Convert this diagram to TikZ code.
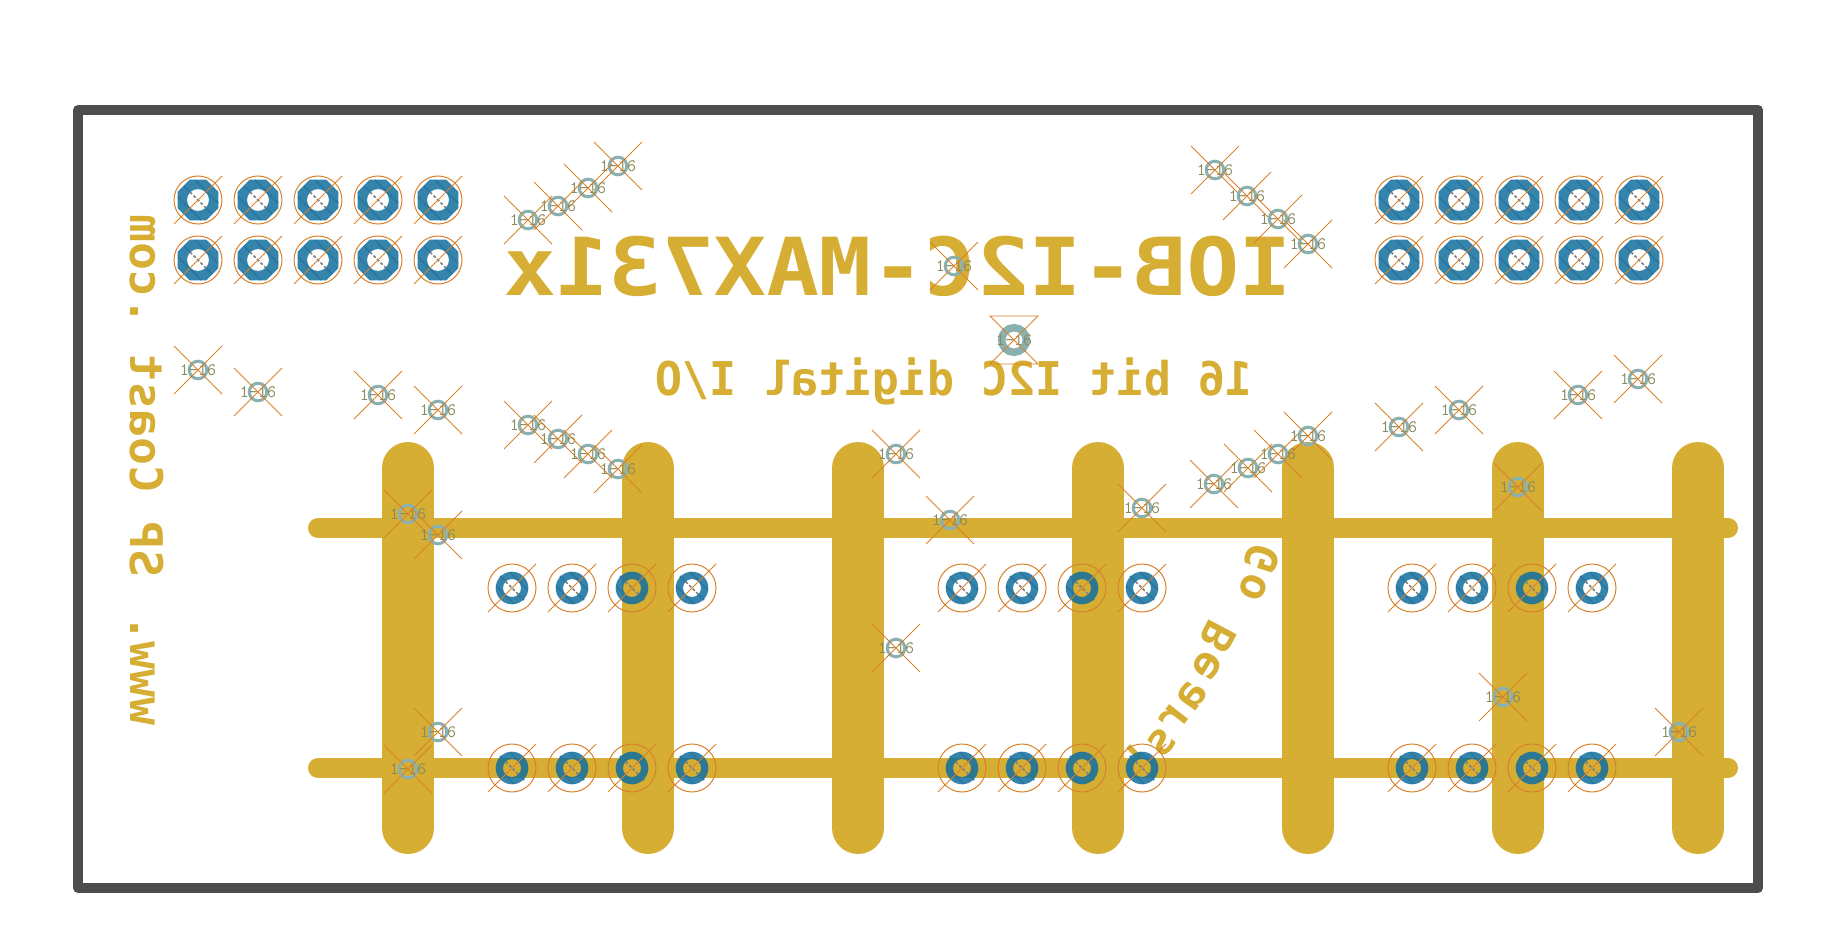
\documentclass[tikz,border=0pt]{standalone}
\usepackage{graphicx}
\usepackage{fontspec}
\usepackage{xcolor}
\usepackage{tikz}
\newfontfamily\silkfont{DejaVu Sans Mono}
\definecolor{copper}{HTML}{D6AE33}
\definecolor{padblue}{HTML}{116F9E}
\definecolor{padedge}{HTML}{2A76A0}
\definecolor{pcbmark}{HTML}{D9822B}
\definecolor{viaring}{HTML}{8AB0B0}
\definecolor{labtext}{HTML}{8A8A5A}
\definecolor{edgecut}{HTML}{4D4D4D}
\tikzset{
  xmark/.style={draw=pcbmark, line width=0.9pt},
  stripe/.style={draw=padedge, line width=1.6pt},
  drill/.style={draw=gray, line width=1.6pt, dash pattern=on 3pt off 2pt},
  silk/.style={inner sep=0pt, text=copper},
  vialab/.style={inner sep=0pt, text=labtext, font=\ttfamily\fontsize{17.5}{17.5}\selectfont}}
\newcommand{\octpad}[2]{%
  \begin{scope}[shift={(#1,#2)}]
  \fill[padblue, opacity=.85, even odd rule]
    (-8.4,-20.3) -- (8.4,-20.3) -- (20.3,-8.4) -- (20.3,8.4) -- (8.4,20.3)
    -- (-8.4,20.3) -- (-20.3,8.4) -- (-20.3,-8.4) -- cycle (0,0) circle (11);
  \draw[stripe] (-3,-20) -- (20,3);
  \draw[stripe] (-20,-3) -- (3,20);
  \draw[stripe] (-14,-14) -- (-8,-8) (8,8) -- (14,14);
  \draw[drill] (-8,-8) -- (8,8);
  \draw[pcbmark, line width=1pt] (0,0) circle (24);
  \draw[xmark] (-24,24) -- (24,-24);
  \end{scope}}
\newcommand{\roundpad}[2]{%
  \begin{scope}[shift={(#1,#2)}]
  \fill[padblue, opacity=.85, even odd rule] (0,0) circle (16.3) (0,0) circle (9);
  \draw[stripe] (-1.8,-15.8) -- (15.8,1.8);
  \draw[stripe] (-15.8,-1.8) -- (1.8,15.8);
  \draw[stripe] (-12,-12) -- (-6.4,-6.4) (6.4,6.4) -- (12,12);
  \draw[drill] (-6.4,-6.4) -- (6.4,6.4);
  \draw[pcbmark, line width=1pt] (0,0) circle (24);
  \draw[xmark] (-24,24) -- (24,-24);
  \end{scope}}
\begin{document}
\begin{tikzpicture}[x=1pt,y=-1pt]
\useasboundingbox (0,0) rectangle (1840,928);
\fill[white] (0,0) rectangle (1840,928);
% traces
\foreach \barx in {408,648,858,1098,1308,1518,1698}
  \draw[copper, line width=52pt, line cap=round] (\barx,468) -- (\barx,828);
\foreach \bary in {528,768}
  \draw[copper, line width=20pt, line cap=round] (318,\bary) -- (1728,\bary);
% board edge
\draw[edgecut, line width=10pt, line join=round] (78,110) rectangle (1758,888);
% mirrored copper text
\node[silk] (title) at (898,266)
  {\fontsize{80}{80}\silkfont\bfseries\scalebox{-1.09}[1]{IOB-I2C-MAX731x}};
\node[silk] (subtitle) at (954,381)
  {\fontsize{46.5}{46.5}\silkfont\bfseries\scalebox{-.97}[1]{16 bit I2C digital I/O}};
\node[silk, rotate=-90] (site) at (147,470)
  {\fontsize{45}{45}\silkfont\bfseries\scalebox{-1.03}[1]{www. SP Coast .com}};
\foreach \letter/\letx/\lety/\letrot [count=\letnum] in {G/1262/558/72,o/1253/587/68,B/1218/637/62,
    e/1207/665/58,a/1192/695/55,r/1175/717/52,s/1162/742/48,!/1140/758/44}
  \node[silk, rotate=\letrot] (bear\letnum) at (\letx,\lety) {\fontsize{44}{44}\silkfont\bfseries\reflectbox{\letter}};
% header pads
\foreach \padx in {198,258,318,378,438,1399,1459,1519,1579,1639}
  \foreach \pady in {200,260} {\octpad{\padx}{\pady}}
% pads on the bars
\foreach \padx in {512,572,632,692,962,1022,1082,1142,1412,1472,1532,1592}
  \foreach \pady in {588,768} {\roundpad{\padx}{\pady}}
% vias
\foreach \viax/\viay [count=\vianum] in {618/166,588/188,558/206,528/220,
    1215/170,1247/196,1278/219,1308/244,954/266,
    198/370,258/392,378/395,438/410,
    528/425,558/439,588/454,618/469,896/454,
    1214/484,1248/468,1278/454,1308/436,
    1399/427,1459/410,1578/395,1638/379,1518/487,
    1142/508,950/520,408/514,438/535,
    896/648,1503/697,1679/732,438/732,408/769}
{
  \draw[viaring, line width=3pt] (\viax,\viay) circle (8.8);
  \node[vialab] (via\vianum) at (\viax,\viay) {1-16};
  \draw[xmark] (\viax-24,\viay-24) -- (\viax+24,\viay+24);
  \draw[xmark] (\viax-24,\viay+24) -- (\viax+24,\viay-24);
}
% mounting via
\draw[viaring, line width=7.5pt] (1014,340) circle (12.3);
\node[vialab] (mount) at (1014,340) {1-16};
\draw[xmark] (990,316) -- (1038,316) -- (990,364) -- (1038,364) -- cycle;
\end{tikzpicture}
\end{document}
